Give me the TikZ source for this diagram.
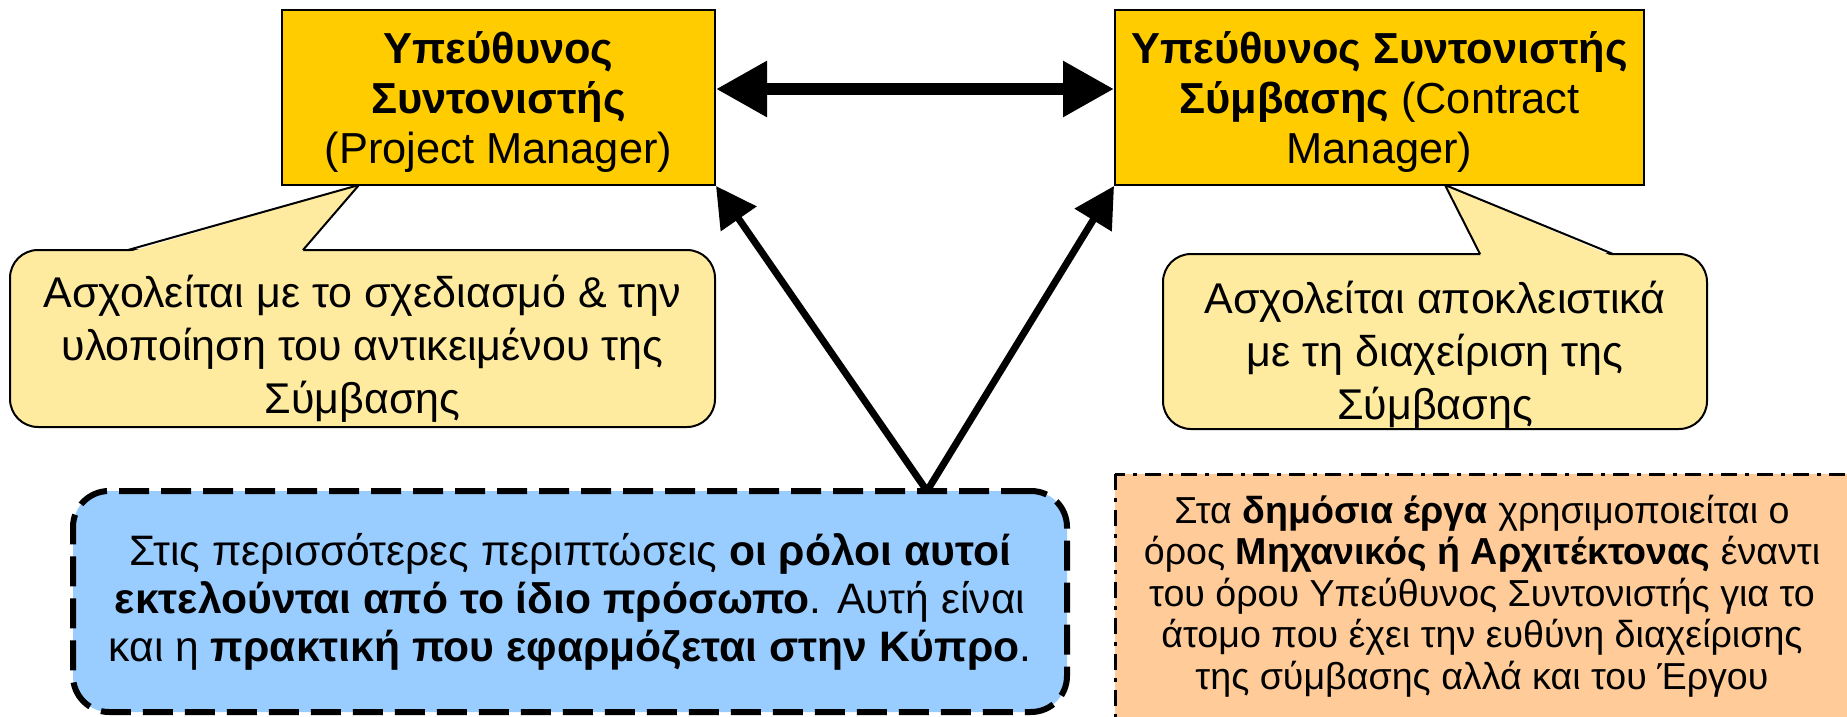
\documentclass[tikz,border=0pt]{standalone}
\usepackage{fontspec}
\setmainfont{Liberation Sans}
\usetikzlibrary{arrows.meta}
\definecolor{gold}{HTML}{FFCC00}
\definecolor{lightyel}{HTML}{FFEBA0}
\definecolor{skyb}{HTML}{99CCFF}
\definecolor{peach}{HTML}{FFCC99}
\tikzset{
  rolebox/.style={draw=black, line width=1pt, fill=gold, inner sep=0pt},
  roletext/.style={inner sep=0pt, align=center, font=\fontsize{21.7}{25}\selectfont},
  callbox/.style={draw=black, line width=1pt, fill=lightyel, rounded corners=14pt, inner sep=0pt},
  calltext/.style={inner sep=0pt, align=center, font=\fontsize{21.5}{26.5}\selectfont},
  notebox/.style={draw=black, line width=3pt, dash pattern=on 15pt off 6pt, fill=skyb,
    rounded corners=18pt, inner sep=0pt, align=center, font=\fontsize{21.3}{24}\selectfont},
  peachbox/.style={draw=black, line width=1.5pt, dash pattern=on 8pt off 4pt on 2pt off 4pt,
    fill=peach},
  plaintext/.style={inner sep=0pt, align=center, font=\fontsize{18.8}{20.7}\selectfont},
  pointer/.style={draw=black, line width=1pt, line join=miter},
  dbl/.style={line width=6pt, {Triangle[length=25.5pt,width=26.5pt]}-{Triangle[length=25.5pt,width=26.5pt]}},
  uparrow/.style={line width=3.5pt, -{Triangle[length=20pt,width=21pt]}}
}
\begin{document}
\begin{tikzpicture}[x=0.5pt, y=-0.5pt]
\useasboundingbox (0,0) rectangle (1847,717);
\clip (0,0) rectangle (1847,717);

% callout 1
\node[callbox, minimum width=352.5pt, minimum height=88.5pt] (c1) at (362.5,338.5) {};
\fill[lightyel] (129,252) -- (359,185) -- (302,252) -- cycle;
\draw[pointer] (128,250) -- (359,185) -- (303,250);
\node[calltext] (c1t) at (362.5,349)
  {Ασχολείται με το σχεδιασμό \& την\\υλοποίηση του αντικειμένου της\\Σύμβασης};

% callout 2
\node[callbox, minimum width=272pt, minimum height=87.5pt] (c2) at (1435,341.5) {};
\fill[lightyel] (1481,256) -- (1445,185) -- (1612,256) -- cycle;
\draw[pointer] (1480,254) -- (1445,185) -- (1613,254);
\node[calltext] (c2t) at (1435,355)
  {Ασχολείται αποκλειστικά\\με τη διαχείριση της\\Σύμβασης};

% role boxes
\node[rolebox, minimum width=216.5pt, minimum height=87.5pt] (pm) at (498.5,97.5) {};
\node[roletext] (pmt) at (498.5,102)
  {\textbf{Υπεύθυνος}\\\textbf{Συντονιστής}\\(Project Manager)};
\node[rolebox, minimum width=264.5pt, minimum height=87.5pt] (cm) at (1379.5,97.5) {};
\node[roletext] (cmt) at (1379.5,102)
  {\textbf{Υπεύθυνος Συντονιστής}\\\textbf{Σύμβασης} (Contract\\Manager)};

\draw[dbl] ([yshift=4.25pt]pm.east) -- ([yshift=4.25pt]cm.west);

% note boxes
\node[notebox, minimum width=497pt, minimum height=110.5pt] (note) at (570,601.5)
  {Στις περισσότερες περιπτώσεις \textbf{οι ρόλοι αυτοί}\\
   \textbf{εκτελούνται από το ίδιο πρόσωπο}. Αυτή είναι\\
   και η \textbf{πρακτική που εφαρμόζεται στην Κύπρο}.};

\draw[peachbox] (1115,474) rectangle (1875,745);
\node[plaintext] (pub) at (1482,596)
  {Στα \textbf{δημόσια έργα} χρησιμοποιείται ο\\
   όρος \textbf{Μηχανικός ή Αρχιτέκτονας} έναντι\\
   του όρου Υπεύθυνος Συντονιστής για το\\
   άτομο που έχει την ευθύνη διαχείρισης\\
   της σύμβασης αλλά και του Έργου};

\coordinate (j) at (927,491);
\draw[uparrow] (j) -- (pm.south east);
\draw[uparrow] (j) -- (cm.south west);
\end{tikzpicture}
\end{document}
